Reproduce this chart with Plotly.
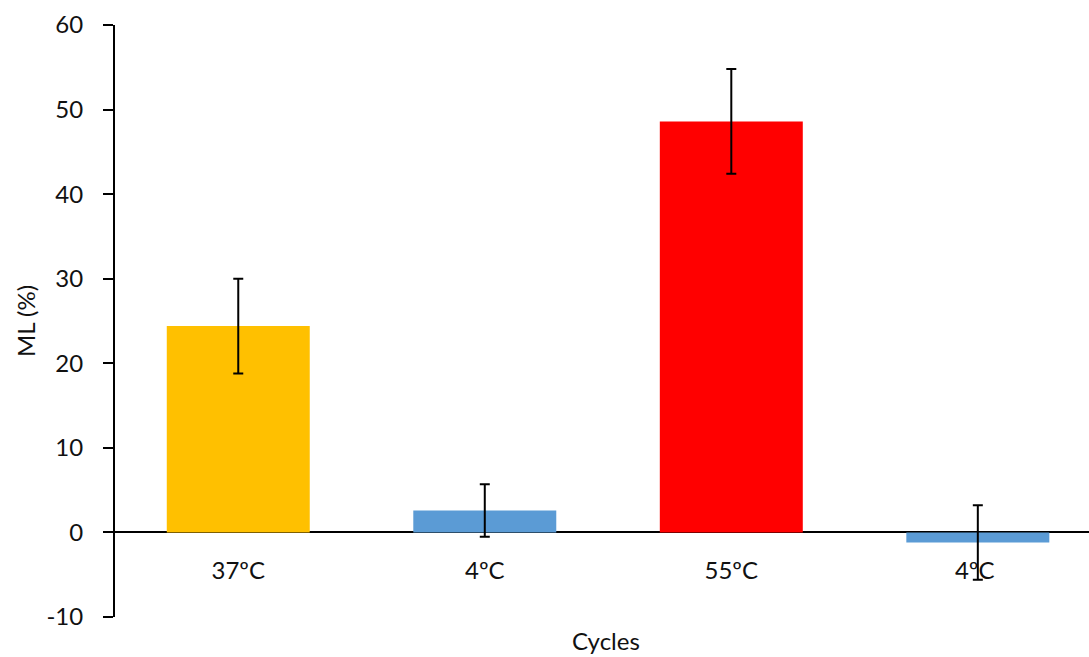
import plotly.graph_objects as go

# Mass loss per temperature cycle
cycles = ["37ºC", "4ºC", "55ºC", "4ºC "]
ml_values = [24.4, 2.6, 48.6, -1.2]
ml_errors = [5.6, 3.1, 6.2, 4.4]
bar_colors = ["#FFC000", "#5B9BD5", "#FF0000", "#5B9BD5"]
y_ticks = [-10, 0, 10, 20, 30, 40, 50, 60]

FONT = "Lato, 'Open Sans', sans-serif"
TEXT = "#111111"
SIZE = 24

y_min, y_max = -10, 60
zero_pos = (0 - y_min) / (y_max - y_min)

fig = go.Figure(
    go.Bar(
        x=list(range(len(cycles))),
        y=ml_values,
        marker=dict(color=bar_colors, line=dict(width=0)),
        error_y=dict(type="data", array=ml_errors, visible=True,
                     color="black", thickness=2, width=5),
        showlegend=False,
    )
)

fig.update_layout(
    width=1089, height=657,
    margin=dict(l=115, r=0, t=25, b=40),
    paper_bgcolor="white", plot_bgcolor="white",
    bargap=0.42,
    font=dict(family=FONT, size=SIZE, color=TEXT),
    xaxis=dict(
        range=[-0.5, 3.451],
        tickmode="array",
        tickvals=list(range(len(cycles))),
        ticktext=cycles,
        showline=False, showgrid=False, zeroline=False, ticks="",
        anchor="free", position=zero_pos,
        ticklabelstandoff=22,
        tickfont=dict(family=FONT, size=SIZE, color=TEXT),
    ),
    yaxis=dict(
        range=[y_min, y_max],
        tickmode="array", tickvals=y_ticks,
        ticktext=[str(v) for v in y_ticks],
        showline=True, linecolor="black", linewidth=2,
        ticks="outside", ticklen=10, tickwidth=2, tickcolor="black",
        showgrid=False,
        zeroline=True, zerolinecolor="black", zerolinewidth=2,
        ticklabelstandoff=15,
        tickfont=dict(family=FONT, size=SIZE, color=TEXT),
    ),
    annotations=[
        dict(text="Cycles", xref="paper", yref="paper",
             x=0.504, y=0, yshift=-23, xanchor="center", yanchor="middle",
             showarrow=False, font=dict(family=FONT, size=SIZE, color=TEXT)),
        dict(text="ML (%)", xref="paper", yref="paper",
             x=-(115 - 25) / 974, y=0.5, xanchor="center", yanchor="middle",
             textangle=-90, showarrow=False,
             font=dict(family=FONT, size=SIZE, color=TEXT)),
    ],
)

fig.write_html("out.html")
